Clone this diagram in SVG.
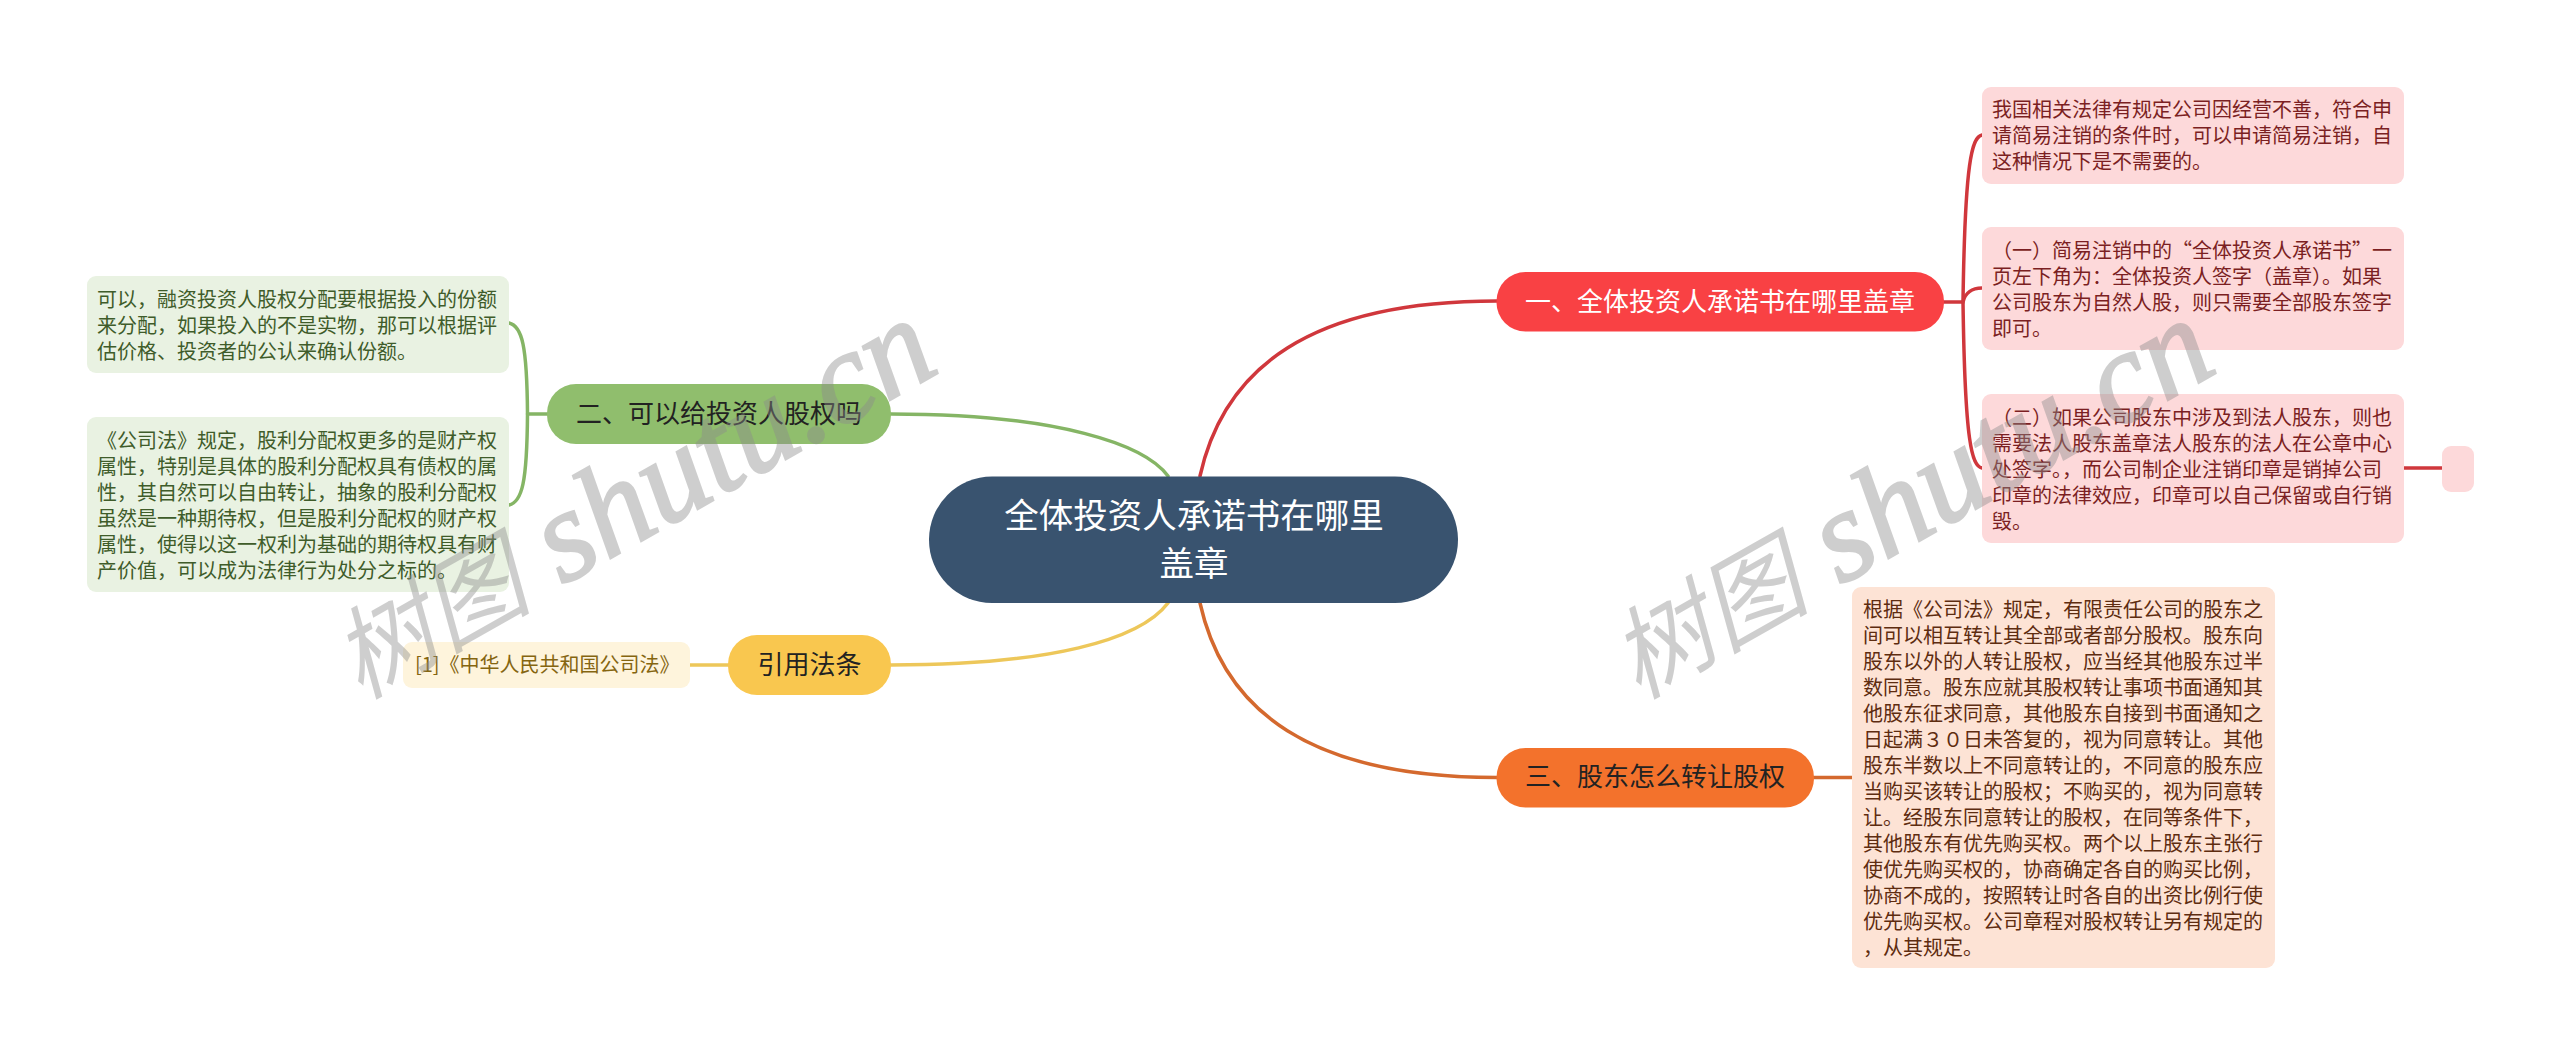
<svg xmlns="http://www.w3.org/2000/svg" width="2560" height="1055" viewBox="0 0 2560 1055">
<style>
text{font-family:"Noto Sans CJK SC","Noto Sans",sans-serif}
.b{font-size:20px}
.n{font-size:26px;text-anchor:middle}
.c{font-size:34.5px;text-anchor:middle;fill:#fff}
.l{fill:none;stroke-width:3.5;stroke-linecap:round}
.r{stroke:#d0373c}.o{stroke:#d4692e}.g{stroke:#85b565}.y{stroke:#edc75a}
.wm{font-family:"Liberation Serif","Noto Sans CJK SC",serif;font-style:italic;font-size:100px;fill:#8c8c8c;opacity:.42}
.wl{font-size:130px;stroke:#8c8c8c;stroke-width:2.500px}
</style>
<rect width="2560" height="1055" fill="#fff"/>
<g id="connectors">
<path class="l r" d="M1200 476C1224 368 1310 301 1497 301"/>
<path class="l o" d="M1200 603C1224 711 1310 777.500 1497 777.500"/>
<path class="l g" d="M1168 476C1145 445 1060 414 891 414"/>
<path class="l y" d="M1168 603C1140 640 1050 665 891 665"/>
<path class="l r" d="M1944 302H1963C1965 293 1972 288 1982 288"/>
<path class="l r" d="M1982 135C1972 137 1965 160 1963 302C1965 445 1972 466 1982 468"/>
<path class="l r" d="M2404 468H2442"/>
<path class="l o" d="M1814 777.500H1852"/>
<path class="l g" d="M547 414H527.500"/>
<path class="l g" d="M509 323C522 326 527 345 527.500 414C527 483 522 502 509 505"/>
<path class="l y" d="M728 665H690"/>
</g>
<g id="root"><rect x="929" y="476.500" width="529" height="126.500" rx="63" fill="#39536f"/>
<text class="c" x="1194" y="528">全体投资人承诺书在哪里</text><text class="c" x="1194" y="575.500">盖章</text></g>
<g id="n1"><rect x="1496.500" y="272" width="447.500" height="59.500" rx="29" fill="#f94144"/><text class="n" x="1720" y="311" fill="#fff">一、全体投资人承诺书在哪里盖章</text></g>
<g id="n2"><rect x="547" y="384" width="344" height="60" rx="29" fill="#90be6d"/><text class="n" x="719" y="423" fill="#222">二、可以给投资人股权吗</text></g>
<g id="n3"><rect x="1496.500" y="748" width="317.500" height="59.500" rx="29" fill="#f3722c"/><text class="n" x="1655" y="786" fill="#222">三、股东怎么转让股权</text></g>
<g id="n4"><rect x="728" y="635" width="163" height="60" rx="29" fill="#f9c74f"/><text class="n" x="809.500" y="674" fill="#222">引用法条</text></g>
<g id="r1" fill="#7b1f22"><rect x="1982" y="87" width="422" height="97" rx="9" fill="#fdd9da"/>
<text class="b" y="117"><tspan x="1992">我国相关法律有规定公司因经营不善，符合申</tspan><tspan x="1992" dy="26">请简易注销的条件时，可以申请简易注销，自</tspan><tspan x="1992" dy="26">这种情况下是不需要的。</tspan></text></g>
<g id="r2" fill="#7b1f22"><rect x="1982" y="227" width="422" height="123" rx="9" fill="#fdd9da"/>
<text class="b" y="258"><tspan x="1992">（一）简易注销中的“全体投资人承诺书”一</tspan><tspan x="1992" dy="26">页左下角为：全体投资人签字（盖章）。如果</tspan><tspan x="1992" dy="26">公司股东为自然人股，则只需要全部股东签字</tspan><tspan x="1992" dy="26">即可。</tspan></text></g>
<g id="r3" fill="#7b1f22"><rect x="1982" y="394" width="422" height="149" rx="9" fill="#fdd9da"/>
<text class="b" y="425"><tspan x="1992">（二）如果公司股东中涉及到法人股东，则也</tspan><tspan x="1992" dy="26">需要法人股东盖章法人股东的法人在公章中心</tspan><tspan x="1992" dy="26">处签字。，而公司制企业注销印章是销掉公司</tspan><tspan x="1992" dy="26">印章的法律效应，印章可以自己保留或自行销</tspan><tspan x="1992" dy="26">毁。</tspan></text></g>
<g id="r4"><rect x="2442" y="446" width="32" height="46" rx="9" fill="#fdd9da"/></g>
<g id="o1" fill="#5e2c10"><rect x="1852" y="587" width="423" height="381" rx="9" fill="#fde3d5"/>
<text class="b" y="617"><tspan x="1863">根据《公司法》规定，有限责任公司的股东之</tspan><tspan x="1863" dy="26">间可以相互转让其全部或者部分股权。股东向</tspan><tspan x="1863" dy="26">股东以外的人转让股权，应当经其他股东过半</tspan><tspan x="1863" dy="26">数同意。股东应就其股权转让事项书面通知其</tspan><tspan x="1863" dy="26">他股东征求同意，其他股东自接到书面通知之</tspan><tspan x="1863" dy="26">日起满３０日未答复的，视为同意转让。其他</tspan><tspan x="1863" dy="26">股东半数以上不同意转让的，不同意的股东应</tspan><tspan x="1863" dy="26">当购买该转让的股权；不购买的，视为同意转</tspan><tspan x="1863" dy="26">让。经股东同意转让的股权，在同等条件下，</tspan><tspan x="1863" dy="26">其他股东有优先购买权。两个以上股东主张行</tspan><tspan x="1863" dy="26">使优先购买权的，协商确定各自的购买比例，</tspan><tspan x="1863" dy="26">协商不成的，按照转让时各自的出资比例行使</tspan><tspan x="1863" dy="26">优先购买权。公司章程对股权转让另有规定的</tspan><tspan x="1863" dy="26">，从其规定。</tspan></text></g>
<g id="g1" fill="#3f5c2a"><rect x="87" y="276" width="422" height="97" rx="9" fill="#e9f2e2"/>
<text class="b" y="307"><tspan x="97">可以，融资投资人股权分配要根据投入的份额</tspan><tspan x="97" dy="26">来分配，如果投入的不是实物，那可以根据评</tspan><tspan x="97" dy="26">估价格、投资者的公认来确认份额。</tspan></text></g>
<g id="g2" fill="#3f5c2a"><rect x="87" y="417" width="422" height="175" rx="9" fill="#e9f2e2"/>
<text class="b" y="448"><tspan x="97">《公司法》规定，股利分配权更多的是财产权</tspan><tspan x="97" dy="26">属性，特别是具体的股利分配权具有债权的属</tspan><tspan x="97" dy="26">性，其自然可以自由转让，抽象的股利分配权</tspan><tspan x="97" dy="26">虽然是一种期待权，但是股利分配权的财产权</tspan><tspan x="97" dy="26">属性，使得以这一权利为基础的期待权具有财</tspan><tspan x="97" dy="26">产价值，可以成为法律行为处分之标的。</tspan></text></g>
<g id="y1" fill="#856510"><rect x="403" y="642" width="287" height="46" rx="9" fill="#fef4dc"/>
<text class="b" x="415" y="672">[1]《中华人民共和国公司法》</text></g>
<g id="watermarks">
<text class="wm" transform="translate(360 700) rotate(-29.500)">树图<tspan class="wl"> shutu.cn</tspan></text>
<text class="wm" transform="translate(1638 700) rotate(-29.500)">树图<tspan class="wl"> shutu.cn</tspan></text>
</g>
</svg>
